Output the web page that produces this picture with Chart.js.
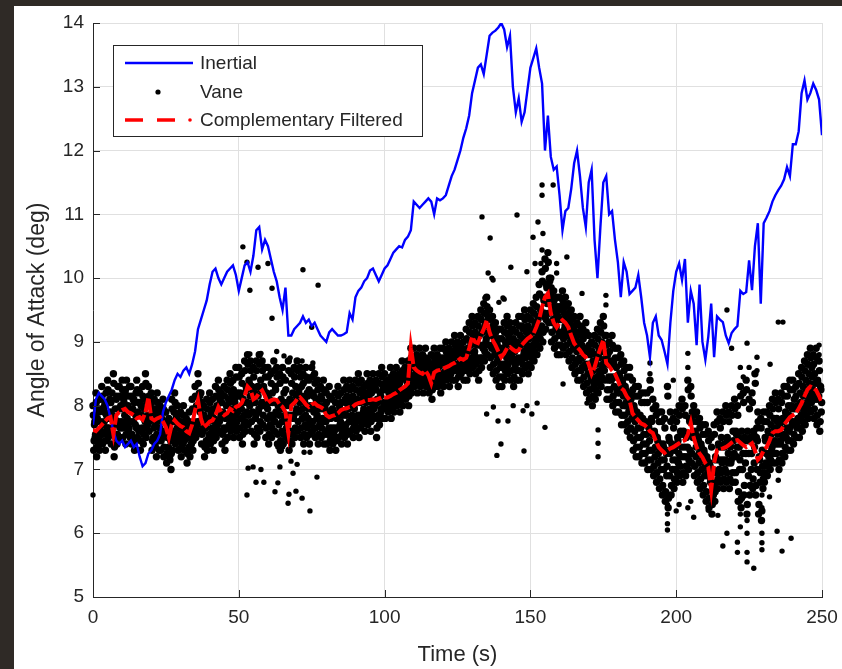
<!DOCTYPE html>
<html><head><meta charset="utf-8">
<script src="https://cdn.jsdelivr.net/npm/chart.js@4.4.0/dist/chart.umd.min.js"></script>
<style>
html,body{margin:0;padding:0;background:#2f2a26;width:842px;height:669px;overflow:hidden}
#panel{position:absolute;left:14px;top:6px;width:828px;height:663px;background:#fff}
canvas{display:block}
</style></head><body>
<div id="panel"><canvas id="c" width="828" height="663"></canvas></div>
<script>
const seriesNames = ['Inertial', 'Vane', 'Complementary Filtered'];
const xTitle = 'Time (s)';
const yTitle = 'Angle of Attack (deg)';
const xTicks = [0, 50, 100, 150, 200, 250];
const yTicks = [5, 6, 7, 8, 9, 10, 11, 12, 13, 14];

// Inertial AoA, one value per second (t = 0..250 s)
const inertial = [
7.7,8.1,8.2,8.15,8.1,8.0,7.8,7.6,7.45,7.4,
7.45,7.35,7.4,7.45,7.35,7.4,7.2,7.05,7.1,7.25,
7.3,7.4,7.45,7.55,7.9,8.05,8.15,8.25,8.4,8.5,
8.45,8.55,8.6,8.5,8.65,8.85,9.2,9.35,9.5,9.65,
9.9,10.1,10.15,10.0,9.9,10.0,10.1,10.15,10.2,10.05,
9.8,10.0,10.2,10.25,10.1,10.35,10.75,10.8,10.45,10.6,
10.5,10.3,10.1,9.95,9.7,9.5,9.85,9.1,9.1,9.2,
9.25,9.3,9.4,9.3,9.35,9.25,9.3,9.2,9.1,9.05,
9.0,9.15,9.2,9.15,9.1,9.1,9.12,9.15,9.45,9.35,
9.7,9.8,9.85,9.95,10.0,10.12,10.15,10.05,9.95,10.05,
10.15,10.2,10.3,10.4,10.45,10.5,10.48,10.6,10.65,10.75,
11.2,11.15,11.1,11.15,11.2,11.25,11.2,11.0,11.25,11.22,
11.25,11.3,11.45,11.6,11.7,11.85,12.0,12.2,12.35,12.55,
12.9,13.1,13.3,13.35,13.2,13.5,13.8,13.85,13.88,13.93,
14.0,13.9,13.62,13.8,13.0,12.6,12.82,12.45,12.6,12.95,
13.3,13.45,13.6,13.3,13.05,12.0,12.55,11.9,11.7,11.75,
11.3,10.75,11.05,11.1,11.4,11.8,12.0,11.6,11.1,10.8,
11.5,11.7,10.6,10.0,10.8,11.5,11.6,11.0,11.05,10.6,
10.25,9.7,10.25,10.1,9.75,9.8,9.85,10.05,9.7,9.3,
9.1,8.76,9.3,9.4,9.1,9.03,8.85,8.65,9.3,9.8,
10.1,10.23,9.97,10.3,9.3,9.8,9.6,8.95,9.9,9.0,
8.72,9.08,9.6,8.76,9.4,9.35,9.31,9.1,8.98,9.14,
9.2,9.25,9.8,9.75,9.78,10.28,9.81,10.5,10.86,9.6,
10.86,10.95,11.05,11.2,11.3,11.38,11.45,11.55,11.74,11.6,
12.1,12.1,12.3,12.9,13.1,12.8,12.9,13.05,12.95,12.8,
12.24];

// Complementary filtered AoA, one value per second (t = 0..250 s)
const filtered = [
7.62,7.6,7.65,7.7,7.75,7.8,7.82,7.55,7.85,7.9,
7.93,7.95,7.9,7.88,7.85,7.8,7.82,7.78,7.9,8.13,
7.8,7.77,7.8,7.82,7.75,7.66,7.5,7.7,7.77,7.72,
7.68,7.66,7.6,7.57,7.7,7.93,8.09,7.8,7.66,7.7,
7.75,7.77,7.85,7.98,7.9,7.85,7.88,7.95,7.92,7.98,
8.0,8.04,8.15,8.3,8.25,8.1,8.13,8.2,8.24,8.15,
8.04,8.08,8.1,8.09,8.02,7.98,7.9,7.57,8.0,8.04,
8.1,8.13,8.08,8.02,7.98,8.02,8.04,8.0,7.98,7.95,
7.85,7.82,7.84,7.85,7.88,7.93,7.95,7.96,7.98,7.98,
8.02,8.04,8.05,8.07,8.09,8.09,8.1,8.09,8.11,8.13,
8.13,8.13,8.15,8.18,8.2,8.24,8.27,8.3,8.35,8.92,
8.6,8.55,8.52,8.5,8.55,8.48,8.35,8.52,8.55,8.56,
8.58,8.6,8.62,8.65,8.67,8.7,8.74,8.72,8.75,8.9,
9.08,9.0,8.98,9.1,9.2,9.34,9.15,9.03,8.95,8.85,
8.76,8.82,8.9,8.92,8.88,8.85,8.87,8.95,9.0,9.05,
9.08,9.12,9.23,9.35,9.55,9.7,9.76,9.45,9.3,9.23,
9.3,9.34,9.3,9.23,9.1,8.98,8.92,8.87,8.8,8.76,
8.65,8.5,8.6,8.76,8.9,9.03,8.67,8.62,8.55,8.5,
8.4,8.28,8.24,8.15,8.09,7.88,7.82,7.77,7.72,7.7,
7.66,7.6,7.57,7.45,7.35,7.3,7.26,7.3,7.33,7.35,
7.38,7.41,7.44,7.46,7.55,7.73,7.5,7.35,7.25,7.19,
7.1,7.04,6.68,7.1,7.3,7.32,7.33,7.35,7.38,7.42,
7.45,7.46,7.42,7.38,7.35,7.38,7.41,7.3,7.15,7.2,
7.3,7.35,7.45,7.57,7.6,7.6,7.62,7.7,7.76,7.82,
7.85,7.88,7.95,8.04,8.15,8.25,8.3,8.28,8.24,8.15,
8.04];

// Vane AoA, four samples per second (t = 0 .. 249.75 s)
const vane = [
8.0,7.3,7.7,7.5, 8.2,7.2,7.8,7.4, 7.9,7.3,8.1,7.6, 8.3,7.4,7.7,7.9, 8.0,7.3,8.2,7.6, 8.4,7.5,7.8,8.1, 7.9,7.4,8.2,7.6, 8.5,7.2,7.8,7.5, 8.1,7.4,8.3,7.7, 8.3,7.5,8.0,7.7,
8.4,7.5,8.1,7.7, 8.2,7.4,8.4,7.8, 8.0,7.6,8.3,7.5, 8.3,7.4,7.9,8.1, 8.1,7.3,7.7,8.2, 8.4,7.5,7.9,7.6, 8.2,7.3,8.0,7.6, 8.3,7.4,7.8,8.1, 8.5,7.5,8.1,7.7, 8.3,7.6,8.0,7.8,
8.2,7.3,7.9,7.5, 8.1,7.4,7.7,7.2, 8.2,7.5,7.9,7.3, 8.0,7.3,7.8,7.5, 8.1,7.2,7.6,7.9, 7.9,7.1,7.5,7.7, 7.8,7.2,7.5,7.0, 8.1,7.3,7.6,7.9, 8.2,7.4,7.8,7.5, 8.0,7.3,7.7,7.5,
7.9,7.2,7.6,7.4, 8.0,7.3,7.7,7.5, 7.8,7.1,7.5,7.3, 7.9,7.2,7.6,7.4, 8.1,7.3,7.7,7.5, 8.3,7.5,8.0,7.7, 8.5,7.6,8.2,7.9, 8.2,7.4,7.8,7.6, 8.0,7.2,7.7,7.4, 8.1,7.3,7.8,7.5,
8.2,7.4,7.9,7.6, 8.1,7.3,7.8,7.5, 8.3,7.5,8.0,7.7, 8.4,7.6,8.1,7.8, 8.2,7.4,7.9,7.6, 8.3,7.3,7.8,8.0, 8.4,7.5,8.1,7.7, 8.5,7.6,8.2,7.8, 8.4,7.5,8.1,7.7, 8.6,7.6,8.2,7.9,
8.6,7.5,8.2,7.8, 8.5,7.4,8.1,7.7, 8.7,7.6,8.3,7.9, 8.8,7.7,8.4,8.0, 8.7,7.6,8.3,7.9, 8.6,7.4,8.2,7.8, 8.7,7.5,8.3,7.9, 8.8,7.6,8.4,8.0, 8.7,7.7,8.3,8.0, 8.6,7.5,8.2,7.8,
8.6,7.4,8.1,7.7, 8.5,7.5,8.2,7.8, 8.7,7.6,8.3,7.9, 8.6,7.4,8.0,7.7, 8.5,7.3,8.1,7.6, 8.6,7.4,8.2,7.8, 8.4,7.5,8.0,7.7, 8.7,7.3,8.1,7.6, 8.5,7.4,8.2,7.8, 8.6,7.5,8.3,7.9,
8.7,7.6,8.2,7.9, 8.6,7.5,8.3,7.8, 8.5,7.4,8.1,7.7, 8.6,7.5,8.2,7.8, 8.4,7.4,8.0,7.7, 8.6,7.6,8.2,7.9, 8.5,7.5,8.1,7.8, 8.4,7.4,8.0,7.7, 8.3,7.5,8.1,7.8, 8.4,7.4,8.0,7.6,
8.2,7.4,7.9,7.6, 8.3,7.3,7.8,7.5, 8.1,7.4,7.9,7.6, 8.2,7.3,7.8,7.5, 8.3,7.5,8.0,7.7, 8.2,7.4,7.9,7.6, 8.4,7.5,8.1,7.7, 8.3,7.4,8.0,7.6, 8.4,7.6,8.1,7.8, 8.3,7.5,8.0,7.7,
8.4,7.6,8.1,7.8, 8.5,7.5,8.2,7.8, 8.4,7.7,8.1,7.9, 8.3,7.6,8.2,7.8, 8.5,7.7,8.3,7.9, 8.4,7.6,8.2,7.8, 8.5,7.8,8.3,8.0, 8.4,7.5,8.1,7.8, 8.5,7.7,8.2,7.9, 8.6,7.8,8.3,8.0,
8.5,7.8,8.3,8.0, 8.4,7.9,8.2,8.0, 8.6,7.8,8.3,8.1, 8.5,7.9,8.4,8.1, 8.6,8.0,8.3,8.2, 8.5,7.9,8.4,8.1, 8.7,8.0,8.5,8.2, 8.6,8.1,8.4,8.3, 8.7,8.0,8.5,8.2, 8.9,8.2,8.6,8.4,
8.9,8.3,8.7,8.5, 8.8,8.2,8.6,8.4, 8.9,8.3,8.7,8.5, 8.8,8.2,8.6,8.4, 8.9,8.3,8.7,8.5, 8.7,8.2,8.5,8.4, 8.8,8.1,8.6,8.3, 8.9,8.3,8.7,8.5, 8.8,8.3,8.6,8.4, 8.9,8.2,8.7,8.5,
8.9,8.3,8.7,8.5, 9.0,8.4,8.8,8.6, 8.9,8.3,8.7,8.5, 9.0,8.4,8.8,8.6, 9.1,8.4,8.9,8.6, 9.0,8.3,8.8,8.5, 9.1,8.5,8.9,8.7, 9.0,8.4,8.8,8.6, 9.2,8.4,8.9,8.7, 9.3,8.5,9.0,8.7,
9.4,8.6,9.1,8.8, 9.3,8.5,9.0,8.7, 9.4,8.4,9.1,8.7, 9.5,8.6,9.2,8.9, 9.6,8.7,9.3,9.0, 9.7,8.8,9.4,9.1, 9.5,8.6,9.2,8.9, 9.4,8.5,9.1,8.8, 9.3,8.4,9.0,8.7, 9.2,8.3,8.9,8.6,
9.2,8.3,8.9,8.6, 9.3,8.4,9.0,8.6, 9.4,8.5,9.1,8.8, 9.3,8.4,9.0,8.7, 9.2,8.3,8.9,8.6, 9.3,8.4,9.0,8.7, 9.4,8.4,9.1,8.7, 9.4,8.5,9.2,8.8, 9.5,8.6,9.2,8.9, 9.4,8.5,9.1,8.8,
9.5,8.6,9.2,8.9, 9.6,8.7,9.3,9.0, 9.7,8.8,9.4,9.1, 9.9,8.9,9.5,9.2, 10.1,9.0,9.7,9.4, 10.3,9.2,9.9,9.6, 10.4,9.3,10.0,9.7, 10.0,9.0,9.7,9.3, 9.8,8.9,9.5,9.2, 9.7,8.8,9.4,9.1,
9.7,8.8,9.5,9.1, 9.8,8.9,9.6,9.2, 9.7,8.8,9.4,9.1, 9.6,8.7,9.3,9.0, 9.5,8.6,9.2,8.9, 9.4,8.5,9.1,8.7, 9.3,8.4,9.0,8.7, 9.4,8.4,9.1,8.6, 9.2,8.3,8.9,8.6, 9.3,8.2,8.9,8.5,
9.1,8.1,8.8,8.4, 9.0,8.0,8.7,8.3, 9.1,8.1,8.8,8.4, 9.2,8.2,8.9,8.5, 9.3,8.3,9.0,8.6, 9.4,8.4,9.1,8.7, 9.1,8.1,8.8,8.4, 9.0,8.1,8.7,8.4, 9.1,8.0,8.7,8.3, 8.9,7.9,8.6,8.2,
8.9,7.9,8.5,8.2, 8.8,7.7,8.4,8.0, 8.7,7.7,8.3,8.0, 8.6,7.6,8.2,7.9, 8.6,7.5,8.1,7.8, 8.4,7.3,8.0,7.6, 8.3,7.2,7.9,7.5, 8.3,7.2,7.8,7.5, 8.2,7.1,7.8,7.4, 8.2,7.1,7.7,7.4,
8.2,7.0,7.7,7.3, 8.4,7.0,7.8,7.3, 8.1,6.9,7.6,7.2, 8.0,6.8,7.5,7.1, 7.9,6.7,7.4,7.0, 7.9,6.6,7.4,7.0, 7.8,6.5,7.3,6.9, 8.3,6.4,7.5,6.9, 7.9,6.6,7.4,7.0, 7.8,6.7,7.3,7.0,
7.9,6.8,7.5,7.1, 8.0,6.9,7.6,7.2, 8.1,6.8,7.6,7.2, 8.0,6.9,7.5,7.2, 8.4,7.0,7.8,7.3, 8.3,7.1,7.9,7.5, 8.0,6.9,7.6,7.2, 7.9,6.8,7.5,7.1, 7.8,6.7,7.4,7.0, 7.7,6.6,7.3,6.9,
7.7,6.5,7.2,6.9, 7.6,6.4,7.1,6.8, 7.5,6.3,7.0,6.6, 7.7,6.5,7.2,6.8, 7.9,6.7,7.4,7.0, 7.8,6.8,7.5,7.1, 7.9,6.7,7.4,7.0, 8.0,6.8,7.5,7.1, 7.9,6.7,7.4,7.1, 8.0,6.8,7.6,7.2,
8.1,6.8,7.6,7.2, 8.0,6.5,7.5,7.0, 8.3,6.4,7.6,7.0, 8.2,6.6,7.5,7.1, 8.4,6.3,7.6,6.9, 8.1,6.6,7.5,7.0, 8.2,6.7,7.6,7.1, 8.5,6.6,7.5,7.0, 7.9,6.3,7.2,6.8, 7.8,6.2,7.3,6.7,
7.9,6.8,7.5,7.1, 7.9,6.9,7.6,7.2, 8.0,7.0,7.7,7.3, 8.1,7.1,7.8,7.4, 8.2,7.1,7.8,7.4, 8.1,7.0,7.7,7.4, 8.2,7.1,7.8,7.5, 8.3,7.2,7.9,7.5, 8.3,7.3,8.0,7.6, 8.4,7.3,8.0,7.7,
8.4,7.4,8.1,7.7, 8.3,7.5,8.0,7.8, 8.5,7.5,8.2,7.8, 8.6,7.6,8.3,7.9, 8.7,7.7,8.4,8.0, 8.8,7.8,8.5,8.1, 8.9,7.9,8.6,8.2, 8.8,7.8,8.5,8.1, 8.9,7.7,8.4,8.1, 8.7,7.6,8.3,7.9
];

// Vane AoA, interleaved samples (four per second, t = 0.125 .. 249.875 s)
const vaneInterleaved = [
7.85,7.45,7.75,7.55, 8.05,7.35,7.75,7.55, 7.95,7.45,7.75,7.55, 8.15,7.55,7.95,7.75, 8.05,7.45,7.85,7.65, 8.25,7.65,8.05,7.85, 8.05,7.55,7.85,7.65, 8.35,7.35,7.95,7.75, 8.15,7.55,7.95,7.75, 8.15,7.65,7.95,7.75,
8.25,7.65,8.05,7.85, 8.25,7.55,7.95,7.75, 8.15,7.65,7.95,7.75, 8.15,7.55,7.95,7.75, 8.05,7.45,7.85,7.65, 8.25,7.65,8.05,7.85, 8.05,7.45,7.85,7.65, 8.15,7.55,7.95,7.75, 8.35,7.65,8.05,7.85, 8.15,7.75,8.05,7.85,
8.05,7.45,7.85,7.65, 7.95,7.35,7.75,7.55, 8.05,7.45,7.85,7.65, 7.85,7.45,7.75,7.55, 7.95,7.35,7.75,7.55, 7.75,7.25,7.55,7.35, 7.65,7.15,7.45,7.25, 7.95,7.45,7.75,7.55, 8.05,7.55,7.85,7.65, 7.85,7.45,7.75,7.55,
7.75,7.35,7.65,7.45, 7.85,7.45,7.75,7.55, 7.65,7.25,7.55,7.35, 7.75,7.35,7.65,7.45, 7.95,7.45,7.75,7.55, 8.15,7.65,7.95,7.75, 8.35,7.75,8.15,7.95, 8.05,7.55,7.85,7.65, 7.85,7.35,7.65,7.45, 7.95,7.45,7.75,7.55,
8.05,7.55,7.85,7.65, 7.95,7.45,7.75,7.55, 8.15,7.65,7.95,7.75, 8.25,7.75,8.05,7.85, 8.05,7.55,7.85,7.65, 8.15,7.45,7.85,7.65, 8.25,7.65,8.05,7.85, 8.35,7.75,8.15,7.95, 8.25,7.65,8.05,7.85, 8.45,7.75,8.15,7.95,
8.45,7.65,8.15,7.95, 8.35,7.55,8.05,7.85, 8.55,7.75,8.25,8.05, 8.65,7.85,8.35,8.15, 8.55,7.75,8.25,8.05, 8.45,7.55,8.05,7.85, 8.55,7.65,8.15,7.95, 8.65,7.75,8.25,8.05, 8.55,7.85,8.25,8.05, 8.45,7.65,8.15,7.95,
8.45,7.55,8.05,7.85, 8.35,7.65,8.05,7.85, 8.55,7.75,8.25,8.05, 8.45,7.55,8.05,7.85, 8.35,7.45,7.95,7.75, 8.45,7.55,8.05,7.85, 8.25,7.65,8.05,7.85, 8.55,7.45,8.05,7.85, 8.35,7.55,8.05,7.85, 8.45,7.65,8.15,7.95,
8.55,7.75,8.25,8.05, 8.45,7.65,8.15,7.95, 8.35,7.55,8.05,7.85, 8.45,7.65,8.15,7.95, 8.25,7.55,7.95,7.75, 8.45,7.75,8.15,7.95, 8.35,7.65,8.05,7.85, 8.25,7.55,7.95,7.75, 8.15,7.65,7.95,7.75, 8.25,7.55,7.95,7.75,
8.05,7.55,7.85,7.65, 8.15,7.45,7.85,7.65, 7.95,7.55,7.85,7.65, 8.05,7.45,7.85,7.65, 8.15,7.65,7.95,7.75, 8.05,7.55,7.85,7.65, 8.25,7.65,8.05,7.85, 8.15,7.55,7.95,7.75, 8.25,7.75,8.05,7.85, 8.15,7.65,7.95,7.75,
8.25,7.75,8.05,7.85, 8.35,7.65,8.05,7.85, 8.25,7.85,8.15,7.95, 8.15,7.75,8.05,7.85, 8.35,7.85,8.15,7.95, 8.25,7.75,8.05,7.85, 8.35,7.95,8.25,8.05, 8.25,7.65,8.05,7.85, 8.35,7.85,8.15,7.95, 8.45,7.95,8.25,8.05,
8.35,7.95,8.25,8.05, 8.25,8.05,8.35,7.95, 8.45,7.95,8.25,8.05, 8.35,8.05,8.25,8.15, 8.45,8.15,8.35,8.25, 8.35,8.05,8.25,8.15, 8.55,8.15,8.45,8.25, 8.45,8.25,8.55,8.35, 8.55,8.15,8.45,8.25, 8.75,8.35,8.65,8.45,
8.75,8.45,8.65,8.55, 8.65,8.35,8.55,8.45, 8.75,8.45,8.65,8.55, 8.65,8.35,8.55,8.45, 8.75,8.45,8.65,8.55, 8.55,8.35,8.65,8.25, 8.65,8.25,8.55,8.35, 8.75,8.45,8.65,8.55, 8.65,8.45,8.75,8.35, 8.75,8.35,8.65,8.45,
8.75,8.45,8.65,8.55, 8.85,8.55,8.75,8.65, 8.75,8.45,8.65,8.55, 8.85,8.55,8.75,8.65, 8.95,8.55,8.85,8.65, 8.85,8.45,8.75,8.55, 8.95,8.65,8.85,8.75, 8.85,8.55,8.75,8.65, 9.05,8.55,8.85,8.65, 9.15,8.65,8.95,8.75,
9.25,8.75,9.05,8.85, 9.15,8.65,8.95,8.75, 9.25,8.55,8.95,8.75, 9.35,8.75,9.15,8.95, 9.45,8.85,9.25,9.05, 9.55,8.95,9.35,9.15, 9.35,8.75,9.15,8.95, 9.25,8.65,9.05,8.85, 9.15,8.55,8.95,8.75, 9.05,8.45,8.85,8.65,
9.05,8.45,8.85,8.65, 9.15,8.55,8.95,8.75, 9.25,8.65,9.05,8.85, 9.15,8.55,8.95,8.75, 9.05,8.45,8.85,8.65, 9.15,8.55,8.95,8.75, 9.25,8.55,8.95,8.75, 9.25,8.65,9.05,8.85, 9.35,8.75,9.15,8.95, 9.25,8.65,9.05,8.85,
9.35,8.75,9.15,8.95, 9.45,8.85,9.25,9.05, 9.55,8.95,9.35,9.15, 9.75,9.05,9.45,9.25, 9.95,9.15,9.65,9.45, 10.15,9.35,9.85,9.65, 10.25,9.45,9.95,9.75, 9.85,9.15,9.55,9.35, 9.65,9.05,9.45,9.25, 9.55,8.95,9.35,9.15,
9.55,8.95,9.35,9.15, 9.65,9.05,9.45,9.25, 9.55,8.95,9.35,9.15, 9.45,8.85,9.25,9.05, 9.35,8.75,9.15,8.95, 9.25,8.65,9.05,8.85, 9.15,8.55,8.95,8.75, 9.25,8.55,8.95,8.75, 9.05,8.45,8.85,8.65, 9.15,8.35,8.85,8.65,
8.95,8.25,8.65,8.45, 8.85,8.15,8.55,8.35, 8.95,8.25,8.65,8.45, 9.05,8.35,8.75,8.55, 9.15,8.45,8.85,8.65, 9.25,8.55,8.95,8.75, 8.95,8.25,8.65,8.45, 8.85,8.25,8.65,8.45, 8.95,8.15,8.65,8.45, 8.75,8.05,8.45,8.25,
8.75,8.05,8.45,8.25, 8.65,7.85,8.35,8.15, 8.55,7.85,8.25,8.05, 8.45,7.75,8.15,7.95, 8.45,7.65,8.15,7.95, 8.25,7.45,7.95,7.75, 8.15,7.35,7.85,7.65, 8.15,7.35,7.85,7.65, 8.05,7.25,7.75,7.55, 8.05,7.25,7.75,7.55,
8.05,7.15,7.65,7.45, 8.25,7.15,7.75,7.55, 7.95,7.05,7.55,7.35, 7.85,6.95,7.45,7.25, 7.75,6.85,7.35,7.15, 7.75,6.75,7.35,7.15, 7.65,6.65,7.25,7.05, 8.15,6.55,7.45,7.25, 7.75,6.75,7.35,7.15, 7.65,6.85,7.35,7.15,
7.75,6.95,7.45,7.25, 7.85,7.05,7.55,7.35, 7.95,6.95,7.55,7.35, 7.85,7.05,7.55,7.35, 8.25,7.15,7.75,7.55, 8.15,7.25,7.75,7.55, 7.85,7.05,7.55,7.35, 7.75,6.95,7.45,7.25, 7.65,6.85,7.35,7.15, 7.55,6.75,7.25,7.05,
7.55,6.65,7.15,6.95, 7.45,6.55,7.05,6.85, 7.35,6.45,6.95,6.75, 7.55,6.65,7.15,6.95, 7.75,6.85,7.35,7.15, 7.65,6.95,7.35,7.15, 7.75,6.85,7.35,7.15, 7.85,6.95,7.45,7.25, 7.75,6.85,7.35,7.15, 7.85,6.95,7.45,7.25,
7.95,6.95,7.55,7.35, 7.85,6.65,7.35,7.15, 8.15,6.55,7.45,7.25, 8.05,6.75,7.45,7.25, 8.25,6.45,7.45,7.25, 7.95,6.75,7.45,7.25, 8.05,6.85,7.55,7.35, 8.35,6.75,7.65,7.45, 7.75,6.45,7.15,6.95, 7.65,6.35,7.05,6.85,
7.75,6.95,7.45,7.25, 7.75,7.05,7.45,7.25, 7.85,7.15,7.55,7.35, 7.95,7.25,7.65,7.45, 8.05,7.25,7.75,7.55, 7.95,7.15,7.65,7.45, 8.05,7.25,7.75,7.55, 8.15,7.35,7.85,7.65, 8.15,7.45,7.85,7.65, 8.25,7.45,7.95,7.75,
8.25,7.55,7.95,7.75, 8.15,7.65,7.95,7.75, 8.35,7.65,8.05,7.85, 8.45,7.75,8.15,7.95, 8.55,7.85,8.25,8.05, 8.65,7.95,8.35,8.15, 8.75,8.05,8.45,8.25, 8.65,7.95,8.35,8.15, 8.75,7.85,8.35,8.15, 8.55,7.75,8.25,8.05
];

// Scattered vane samples away from the main band
const vaneOutlierTime = [
0,51.4,52.8,56.6,53.8,61.4,61.4,60,72,77.2,75,
53.8,57.6,67.6,71.7,75.4,63,65.5,
52.8,53.2,54.9,55.9,57.6,58.6,62.4,63.4,64.1,66.9,67.2,67.9,68.6,69.6,70,71.7,72.4,74.4,74.4,76.8,63.4,65,
133.4,136.2,135.5,137.2,134.4,145.4,154,157.8,154,152.6,150.9,154.3,154,162.5,143.3,148.8,136.8,140.6,
139.2,141,151.6,153.6,156,159,159,167.7,175.9,175.9,
135,137.3,138.9,142.3,144.1,147.5,148.8,150.5,152.3,139.9,138.5,147.8,155,173.2,173.2,173.2,161.2,169.4,
197,197,197,197,197,211,214.3,217.4,216,221,221,224.3,224.3,226.6,229.4,229.4,229.4,229.4,229.4,229.4,
234.6,236.3,239.4,222,222,222,224.3,224.3,232,235,205,204,201,200,206,213,
191,191,204,204,222,223,225,227.7,227.7,235,236.6,232.2,224.3,217.4,219,249,249,199];
const vaneOutlierValue = [
6.6,10.49,10.25,10.17,9.81,9.84,9.37,10.23,10.13,9.89,9.23,
8.81,8.82,8.75,8.7,8.67,8.85,8.78,
6.6,7.02,7.04,6.8,7.0,6.8,6.65,6.79,7.04,6.47,6.61,7.13,6.94,6.66,7.08,6.55,7.27,7.27,6.35,6.88,7.35,7.35,
10.96,10.63,10.08,9.97,9.69,10.99,11.46,11.46,11.3,10.88,10.64,10.7,10.44,10.33,10.17,10.1,10.0,9.69,
9.62,9.67,10.23,10.23,10.23,10.23,10.08,9.76,9.73,9.58,
7.87,7.98,7.76,7.76,8.0,7.92,8.0,7.87,8.04,7.4,7.22,7.29,7.66,7.62,7.41,7.2,8.34,8.04,
6.6,6.45,6.3,6.15,6.05,6.36,6.28,6.0,5.8,5.86,5.7,5.7,5.55,5.45,6.6,6.4,6.2,6.0,5.85,5.74,
6.03,5.72,5.92,6.5,6.3,6.1,6.2,6.0,6.57,6.83,6.5,6.4,6.45,6.35,6.25,6.5,
8.67,8.5,8.82,8.6,8.6,8.45,8.6,8.76,8.55,9.31,9.31,8.65,8.98,9.5,8.9,8.95,8.8,8.4];

const ink = '#262626';
const FONT = '"Liberation Sans", Arial, Helvetica, sans-serif';

const inertialData = inertial.map((v, i) => ({x: i, y: v}));
const filteredData = filtered.map((v, i) => ({x: i, y: v}));
const bandCount = vane.length + vaneInterleaved.length;
const vaneData = vane.map((v, i) => ({x: i / 4, y: v}))
  .concat(vaneInterleaved.map((v, i) => ({x: i / 4 + 0.125, y: v})))
  .concat(vaneOutlierTime.map((t, i) => ({x: t, y: vaneOutlierValue[i]})));

const axisDecor = {
  id: 'axisDecor',
  afterDraw(chart) {
    const ctx = chart.ctx;
    const a = chart.chartArea;
    const xs = chart.scales.x, ys = chart.scales.y;
    ctx.save();
    ctx.strokeStyle = ink;
    ctx.lineWidth = 1;
    ctx.beginPath();
    yTicks.forEach(v => {
      const y = Math.round(ys.getPixelForValue(v)) + 0.5;
      ctx.moveTo(a.left, y); ctx.lineTo(a.left + 7, y);
    });
    xTicks.forEach(v => {
      const x = Math.round(xs.getPixelForValue(v)) + 0.5;
      ctx.moveTo(x, a.bottom); ctx.lineTo(x, a.bottom - 7);
    });
    ctx.stroke();

    // legend box
    const bx = a.left + 20, by = a.top + 22, bw = 309, bh = 91;
    ctx.fillStyle = '#ffffff';
    ctx.fillRect(bx, by, bw, bh);
    ctx.strokeStyle = ink;
    ctx.strokeRect(bx + 0.5, by + 0.5, bw, bh);
    const rows = [a.top + 40, a.top + 69, a.top + 97];
    const sx0 = a.left + 32, sx1 = a.left + 100, tx = a.left + 107;
    ctx.strokeStyle = '#0000ff'; ctx.lineWidth = 2.4;
    ctx.beginPath(); ctx.moveTo(sx0, rows[0]); ctx.lineTo(sx1, rows[0]); ctx.stroke();
    ctx.fillStyle = '#000000';
    ctx.beginPath(); ctx.arc(a.left + 65, rows[1], 2.6, 0, Math.PI * 2); ctx.fill();
    ctx.strokeStyle = '#ff0000'; ctx.lineWidth = 3.5;
    ctx.beginPath();
    ctx.moveTo(sx0, rows[2]); ctx.lineTo(sx0 + 18, rows[2]);
    ctx.moveTo(sx0 + 32, rows[2]); ctx.lineTo(sx0 + 50, rows[2]);
    ctx.stroke();
    ctx.fillStyle = '#ff0000';
    ctx.beginPath(); ctx.arc(a.left + 97, rows[2], 1.8, 0, Math.PI * 2); ctx.fill();
    ctx.fillStyle = ink;
    ctx.font = '19px ' + FONT;
    ctx.textBaseline = 'middle';
    ctx.textAlign = 'left';
    seriesNames.forEach((n, i) => ctx.fillText(n, tx, rows[i] + 1));
    ctx.restore();
  }
};

new Chart(document.getElementById('c'), {
  type: 'scatter',
  data: {
    datasets: [
      {label: seriesNames[0], data: inertialData, showLine: true, borderColor: '#0000ff',
       borderWidth: 2.4, pointRadius: 0, tension: 0, order: 2},
      {label: seriesNames[1], data: vaneData, showLine: false, backgroundColor: '#000000',
       borderWidth: 0, pointRadius: c => (c.dataIndex < bandCount ? 3.7 : 2.7), order: 3, clip: false},
      {label: seriesNames[2], data: filteredData, showLine: true, borderColor: '#ff0000',
       borderWidth: 4, borderDash: [14, 3], pointRadius: 0, tension: 0, order: 1}
    ]
  },
  options: {
    responsive: false,
    animation: false,
    devicePixelRatio: 1,
    layout: {padding: {top: 17, right: 20, left: 0, bottom: 0}},
    plugins: {legend: {display: false}, tooltip: {enabled: false}},
    scales: {
      x: {
        type: 'linear', min: 0, max: 250,
        afterBuildTicks: s => { s.ticks = xTicks.map(v => ({value: v})); },
        afterFit: s => { s.height = 72; s.paddingLeft = 0; s.paddingRight = 0; },
        ticks: {color: ink, font: {family: FONT, size: 19}, padding: 9, maxRotation: 0},
        grid: {color: '#e0e0e0', lineWidth: 1, drawTicks: false},
        border: {color: ink, width: 1},
        title: {display: true, text: xTitle, color: ink, font: {family: FONT, size: 22},
                padding: {top: 0, bottom: 1}}
      },
      y: {
        type: 'linear', min: 5, max: 14,
        afterBuildTicks: s => { s.ticks = yTicks.map(v => ({value: v})); },
        afterFit: s => { s.width = 79; s.paddingTop = 0; s.paddingBottom = 0; },
        ticks: {color: ink, font: {family: FONT, size: 19}, padding: 9},
        grid: {color: '#e0e0e0', lineWidth: 1, drawTicks: false},
        border: {color: ink, width: 1},
        title: {display: true, text: yTitle, color: ink, font: {family: FONT, size: 23},
                padding: {top: 10, bottom: 0}}
      }
    }
  },
  plugins: [axisDecor]
});
</script>
</body></html>
